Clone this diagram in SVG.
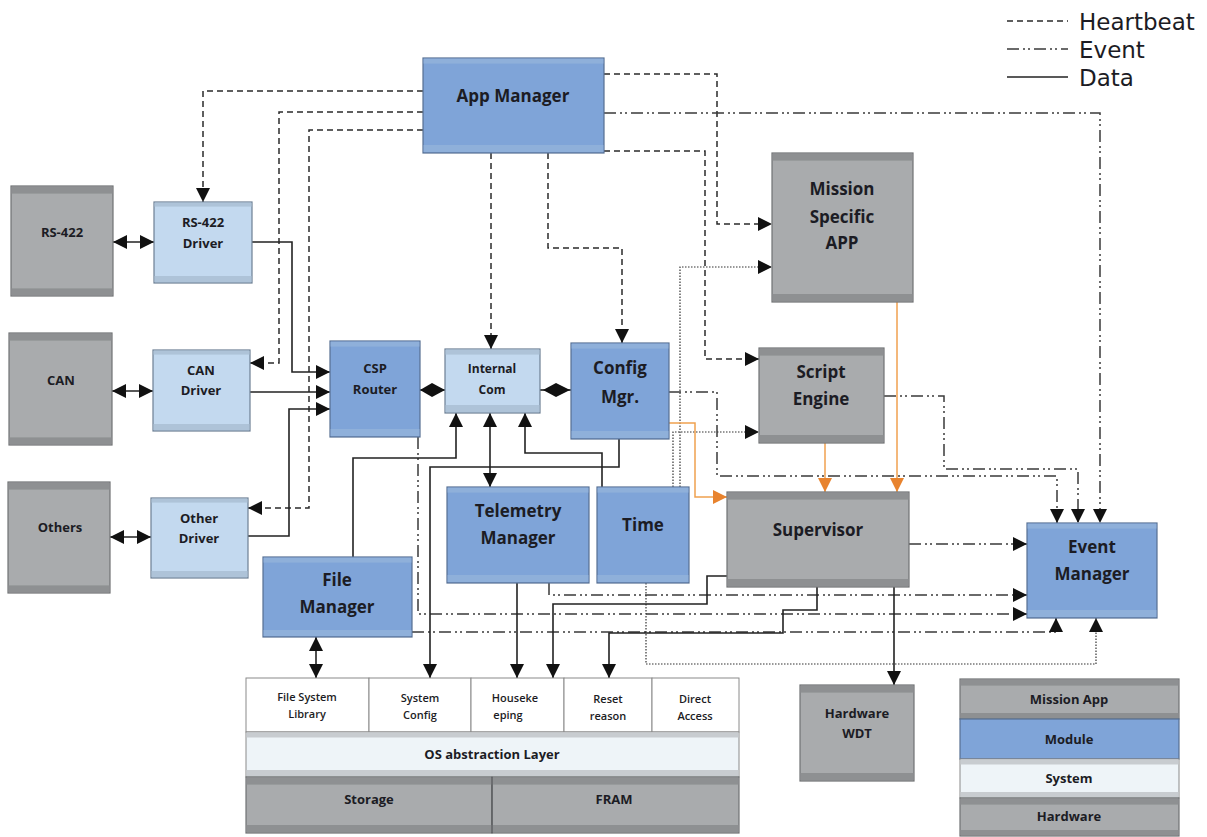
<svg xmlns="http://www.w3.org/2000/svg" width="1207" height="837" viewBox="0 0 1207 837">
<defs>
<style>
text{font-family:"Open Sans","Liberation Sans",sans-serif;fill:#1c1c24;text-anchor:middle}
.b{font-weight:700}
.lg{font-family:"DejaVu Sans","Liberation Sans",sans-serif;font-size:23px;text-anchor:start}
.gray{fill:#a9abad;stroke:#707274;stroke-width:1.2}
.gband{fill:#8e9092}
.blue{fill:#7fa4d8;stroke:#566f92;stroke-width:1.2}
.bband{fill:#8fb0da}
.lb{fill:#c3d9ef;stroke:#6d7f93;stroke-width:1.2}
.lband{fill:#aec3d8}
.white{fill:#ffffff;stroke:#8a8a8a;stroke-width:1}
.sys{fill:#eef4f8;stroke:#8a8a8a;stroke-width:1}
.hb{fill:none;stroke:#2a2a2a;stroke-width:1.5;stroke-dasharray:6 4}
.ev{fill:none;stroke:#3a3a3a;stroke-width:1.5;stroke-dasharray:12 4 2 3 2 4}
.dt{fill:none;stroke:#222;stroke-width:1.6}
.dot{fill:none;stroke:#333;stroke-width:1.2;stroke-dasharray:1.5 1.5}
.or{fill:none;stroke:#f0a14f;stroke-width:1.5}
</style>
<marker id="ar" viewBox="0 0 10 10" refX="10" refY="5" markerWidth="14" markerHeight="14" markerUnits="userSpaceOnUse" orient="auto-start-reverse"><path d="M0,0 L10,5 L0,10 z" fill="#111"/></marker>
<marker id="aro" viewBox="0 0 10 10" refX="10" refY="5" markerWidth="14" markerHeight="14" markerUnits="userSpaceOnUse" orient="auto"><path d="M0,0 L10,5 L0,10 z" fill="#e8832e"/></marker>
</defs>
<rect width="1207" height="837" fill="#fff"/>

<!-- legend -->
<g id="legend">
<line x1="1007" y1="21" x2="1068" y2="21" class="hb"/>
<line x1="1007" y1="49" x2="1068" y2="49" class="ev"/>
<line x1="1007" y1="77" x2="1068" y2="77" class="dt"/>
<text class="lg" x="1079" y="30">Heartbeat</text>
<text class="lg" x="1079" y="58">Event</text>
<text class="lg" x="1079" y="86">Data</text>
</g>

<!-- connectors -->
<g id="connectors">
<!-- heartbeat -->
<path class="hb" d="M423,91 H203 V202" marker-end="url(#ar)"/>
<path class="hb" d="M423,112 H279 V363 H250" marker-end="url(#ar)"/>
<path class="hb" d="M423,130 H309 V508 H248" marker-end="url(#ar)"/>
<path class="hb" d="M491,153 V349" marker-end="url(#ar)"/>
<path class="hb" d="M548,153 V248 H622 V343" marker-end="url(#ar)"/>
<path class="hb" d="M604,74 H717 V224 H772" marker-end="url(#ar)"/>
<path class="hb" d="M604,151 H705 V359 H759" marker-end="url(#ar)"/>
<!-- event -->
<path class="ev" d="M604,113 H1100 V523" marker-end="url(#ar)"/>
<path class="ev" d="M884,396 H944 V469 H1078 V523" marker-end="url(#ar)"/>
<path class="ev" d="M669,392 H717 V476 H1057 V523" marker-end="url(#ar)"/>
<path class="ev" d="M909,544 H1027" marker-end="url(#ar)"/>
<path class="ev" d="M549,583 V595 H1027" marker-end="url(#ar)"/>
<path class="ev" d="M418,437 V614 H1027" marker-end="url(#ar)"/>
<path class="ev" d="M412,632 H1056 V618" marker-end="url(#ar)"/>
<!-- dotted (time) -->
<path class="dot" d="M680,487 V267 H772" marker-end="url(#ar)"/>
<path class="dot" d="M673,487 V432 H759" marker-end="url(#ar)"/>
<path class="dot" d="M646,583 V664 H1096 V618" marker-end="url(#ar)"/>
<!-- data -->
<path class="dt" d="M252,242 H292 V372 H330" marker-end="url(#ar)"/>
<path class="dt" d="M250,392 H330" marker-end="url(#ar)"/>
<path class="dt" d="M248,536 H289 V409 H330" marker-end="url(#ar)"/>
<path class="dt" d="M353,557 V458 H456 V413" marker-end="url(#ar)"/>
<path class="dt" d="M490,413 V487" marker-start="url(#ar)" marker-end="url(#ar)"/>
<path class="dt" d="M602,487 V453 H525 V413" marker-end="url(#ar)"/>
<path class="dt" d="M619,439 V467 H430 V678" marker-end="url(#ar)"/>
<path class="dt" d="M517,583 V678" marker-end="url(#ar)"/>
<path class="dt" d="M727,576 H707 V604 H553 V678" marker-end="url(#ar)"/>
<path class="dt" d="M817,587 V610 H783 V633 H609 V678" marker-end="url(#ar)"/>
<path class="dt" d="M894,587 V685" marker-end="url(#ar)"/>
<path class="dt" d="M316,637 V678" marker-start="url(#ar)" marker-end="url(#ar)"/>
<path class="dt" d="M113,242 H154" marker-start="url(#ar)" marker-end="url(#ar)"/>
<path class="dt" d="M112,391 H153" marker-start="url(#ar)" marker-end="url(#ar)"/>
<path class="dt" d="M110,537 H151" marker-start="url(#ar)" marker-end="url(#ar)"/>
<line x1="420" y1="390" x2="445" y2="390" stroke="#111" stroke-width="1.5"/>
<polygon points="420,390 432,383 445,390 432,397" fill="#111"/>
<line x1="540" y1="390" x2="571" y2="390" stroke="#111" stroke-width="1.5"/>
<polygon points="543,390 556,383 570,390 556,397" fill="#111"/>
<!-- orange -->
<path class="or" d="M669,423 H695 V497 H727" marker-end="url(#aro)"/>
<path class="or" d="M825,443 V492" marker-end="url(#aro)"/>
<path class="or" d="M897,302 V492" marker-end="url(#aro)"/>
</g>

<!-- hardware (gray) -->
<g id="rs422">
<rect class="gray" x="11" y="186" width="102" height="110"/>
<rect class="gband" x="11.6" y="186.6" width="100.8" height="7"/>
<rect class="gband" x="11.6" y="288.4" width="100.8" height="7"/>
<text class="b" x="62" y="237" font-size="13">RS-422</text>
</g>
<g id="can">
<rect class="gray" x="9" y="333" width="103" height="112"/>
<rect class="gband" x="9.6" y="333.6" width="101.8" height="7"/>
<rect class="gband" x="9.6" y="437.4" width="101.8" height="7"/>
<text class="b" x="61" y="385" font-size="13">CAN</text>
</g>
<g id="others">
<rect class="gray" x="8" y="482" width="102" height="111"/>
<rect class="gband" x="8.6" y="482.6" width="100.8" height="7"/>
<rect class="gband" x="8.6" y="585.4" width="100.8" height="7"/>
<text class="b" x="60" y="532" font-size="13">Others</text>
</g>

<!-- drivers -->
<g id="rs422driver">
<rect class="lb" x="154" y="202" width="98" height="81"/>
<rect class="lband" x="154.6" y="202.6" width="96.8" height="4"/>
<rect class="lband" x="154.6" y="276" width="96.8" height="6"/>
<text class="b" x="203" y="227" font-size="13">RS-422</text>
<text class="b" x="203" y="248" font-size="13">Driver</text>
</g>
<g id="candriver">
<rect class="lb" x="153" y="350" width="97" height="81"/>
<rect class="lband" x="153.6" y="350.6" width="95.8" height="4"/>
<rect class="lband" x="153.6" y="424" width="95.8" height="6"/>
<text class="b" x="201" y="375" font-size="13">CAN</text>
<text class="b" x="201" y="395" font-size="13">Driver</text>
</g>
<g id="otherdriver">
<rect class="lb" x="151" y="498" width="97" height="80"/>
<rect class="lband" x="151.6" y="498.6" width="95.8" height="4"/>
<rect class="lband" x="151.6" y="571" width="95.8" height="6"/>
<text class="b" x="199" y="523" font-size="13">Other</text>
<text class="b" x="199" y="543" font-size="13">Driver</text>
</g>

<!-- modules -->
<g id="appmanager">
<rect class="blue" x="423" y="58" width="181" height="95"/>
<rect class="bband" x="423.6" y="58.6" width="179.8" height="5"/>
<rect class="bband" x="423.6" y="145" width="179.8" height="7"/>
<text class="b" x="513" y="102" font-size="17">App Manager</text>
</g>
<g id="csprouter">
<rect class="blue" x="330" y="341" width="90" height="96"/>
<rect class="bband" x="330.6" y="341.6" width="88.8" height="5"/>
<rect class="bband" x="330.6" y="429" width="88.8" height="7"/>
<text class="b" x="375" y="373" font-size="13">CSP</text>
<text class="b" x="375" y="394" font-size="13">Router</text>
</g>
<g id="internalcom">
<rect class="lb" x="445" y="349" width="95" height="64"/>
<rect class="lband" x="445.6" y="349.6" width="93.8" height="5"/>
<rect class="lband" x="445.6" y="405" width="93.8" height="7"/>
<text class="b" x="492" y="373" font-size="12">Internal</text>
<text class="b" x="492" y="394" font-size="12">Com</text>
</g>
<g id="configmgr">
<rect class="blue" x="571" y="343" width="98" height="96"/>
<rect class="bband" x="571.6" y="343.6" width="96.8" height="5"/>
<rect class="bband" x="571.6" y="431" width="96.8" height="7"/>
<text class="b" x="620" y="374" font-size="17">Config</text>
<text class="b" x="620" y="403" font-size="17">Mgr.</text>
</g>
<g id="telemetry">
<rect class="blue" x="447" y="487" width="142" height="96"/>
<rect class="bband" x="447.6" y="487.6" width="140.8" height="5"/>
<rect class="bband" x="447.6" y="575" width="140.8" height="7"/>
<text class="b" x="518" y="517" font-size="17">Telemetry</text>
<text class="b" x="518" y="544" font-size="17">Manager</text>
</g>
<g id="time">
<rect class="blue" x="597" y="487" width="92" height="96"/>
<rect class="bband" x="597.6" y="487.6" width="90.8" height="5"/>
<rect class="bband" x="597.6" y="575" width="90.8" height="7"/>
<text class="b" x="643" y="531" font-size="17">Time</text>
</g>
<g id="filemanager">
<rect class="blue" x="263" y="557" width="149" height="80"/>
<rect class="bband" x="263.6" y="557.6" width="147.8" height="5"/>
<rect class="bband" x="263.6" y="630" width="147.8" height="6"/>
<text class="b" x="337" y="586" font-size="17">File</text>
<text class="b" x="337" y="613" font-size="17">Manager</text>
</g>
<g id="eventmanager">
<rect class="blue" x="1027" y="523" width="130" height="95"/>
<rect class="bband" x="1027.6" y="523.6" width="128.8" height="5"/>
<rect class="bband" x="1027.6" y="610" width="128.8" height="7"/>
<text class="b" x="1092" y="553" font-size="17">Event</text>
<text class="b" x="1092" y="580" font-size="17">Manager</text>
</g>

<!-- mission apps -->
<g id="missionapp">
<rect class="gray" x="772" y="153" width="141" height="149"/>
<rect class="gband" x="772.6" y="153.6" width="139.8" height="7"/>
<rect class="gband" x="772.6" y="294" width="139.8" height="7"/>
<text class="b" x="842" y="195" font-size="17">Mission</text>
<text class="b" x="842" y="223" font-size="17">Specific</text>
<text class="b" x="842" y="249" font-size="17">APP</text>
</g>
<g id="scriptengine">
<rect class="gray" x="759" y="348" width="125" height="95"/>
<rect class="gband" x="759.6" y="348.6" width="123.8" height="7"/>
<rect class="gband" x="759.6" y="435" width="123.8" height="7"/>
<text class="b" x="821" y="378" font-size="17">Script</text>
<text class="b" x="821" y="405" font-size="17">Engine</text>
</g>
<g id="supervisor">
<rect class="gray" x="727" y="492" width="182" height="95"/>
<rect class="gband" x="727.6" y="492.6" width="180.8" height="7"/>
<rect class="gband" x="727.6" y="579" width="180.8" height="7"/>
<text class="b" x="818" y="536" font-size="17">Supervisor</text>
</g>
<g id="hardwarewdt">
<rect class="gray" x="800" y="685" width="114" height="96"/>
<rect class="gband" x="800.6" y="685.6" width="112.8" height="7"/>
<rect class="gband" x="800.6" y="773" width="112.8" height="7"/>
<text class="b" x="857" y="718" font-size="13">Hardware</text>
<text class="b" x="857" y="738" font-size="13">WDT</text>
</g>

<!-- system stack -->
<g id="systemstack">
<rect class="white" x="246" y="678" width="123" height="54"/>
<rect class="white" x="369" y="678" width="102" height="54"/>
<rect class="white" x="471" y="678" width="93" height="54"/>
<rect class="white" x="564" y="678" width="88" height="54"/>
<rect class="white" x="652" y="678" width="87" height="54"/>
<text class="b" x="307" y="701" font-size="11" style="font-weight:600">File System</text>
<text class="b" x="307" y="718" font-size="11" style="font-weight:600">Library</text>
<text class="b" x="420" y="702" font-size="11" style="font-weight:600">System</text>
<text class="b" x="420" y="719" font-size="11" style="font-weight:600">Config</text>
<text class="b" x="515" y="702" font-size="11" style="font-weight:600">Houseke</text>
<text class="b" x="508" y="719" font-size="11" style="font-weight:600">eping</text>
<text class="b" x="608" y="703" font-size="11" style="font-weight:600">Reset</text>
<text class="b" x="608" y="720" font-size="11" style="font-weight:600">reason</text>
<text class="b" x="695" y="703" font-size="11" style="font-weight:600">Direct</text>
<text class="b" x="695" y="720" font-size="11" style="font-weight:600">Access</text>
<rect class="sys" x="246" y="732" width="493" height="45"/>
<rect x="246.5" y="732.5" width="492" height="5" fill="#c8ccd0"/>
<rect x="246.5" y="770" width="492" height="6" fill="#c8ccd0"/>
<text class="b" x="492" y="759" font-size="13">OS abstraction Layer</text>
<rect class="gray" x="246" y="777" width="246" height="56"/>
<rect class="gray" x="492" y="777" width="247" height="56"/>
<rect class="gband" x="246.6" y="777.6" width="491.8" height="7"/>
<rect class="gband" x="246.6" y="825" width="491.8" height="7"/>
<line x1="492" y1="777" x2="492" y2="833" stroke="#55575a" stroke-width="1.2"/>
<text class="b" x="369" y="804" font-size="13">Storage</text>
<text class="b" x="614" y="804" font-size="13">FRAM</text>
</g>

<!-- layer key -->
<g id="layerkey">
<rect class="gray" x="960" y="679" width="219" height="40"/>
<rect class="gband" x="960.6" y="679.6" width="217.8" height="6"/>
<rect class="gband" x="960.6" y="713" width="217.8" height="5"/>
<text class="b" x="1069" y="704" font-size="13">Mission App</text>
<rect class="blue" x="960" y="719" width="219" height="40"/>
<text class="b" x="1069" y="744" font-size="13">Module</text>
<rect class="sys" x="960" y="759" width="219" height="39"/>
<rect x="960.5" y="759.5" width="218" height="5" fill="#c8ccd0"/>
<rect x="960.5" y="792" width="218" height="5" fill="#c8ccd0"/>
<text class="b" x="1069" y="783" font-size="13">System</text>
<rect class="gray" x="960" y="798" width="219" height="38"/>
<rect class="gband" x="960.6" y="798.6" width="217.8" height="6"/>
<rect class="gband" x="960.6" y="830" width="217.8" height="5"/>
<text class="b" x="1069" y="821" font-size="13">Hardware</text>
</g>
</svg>
